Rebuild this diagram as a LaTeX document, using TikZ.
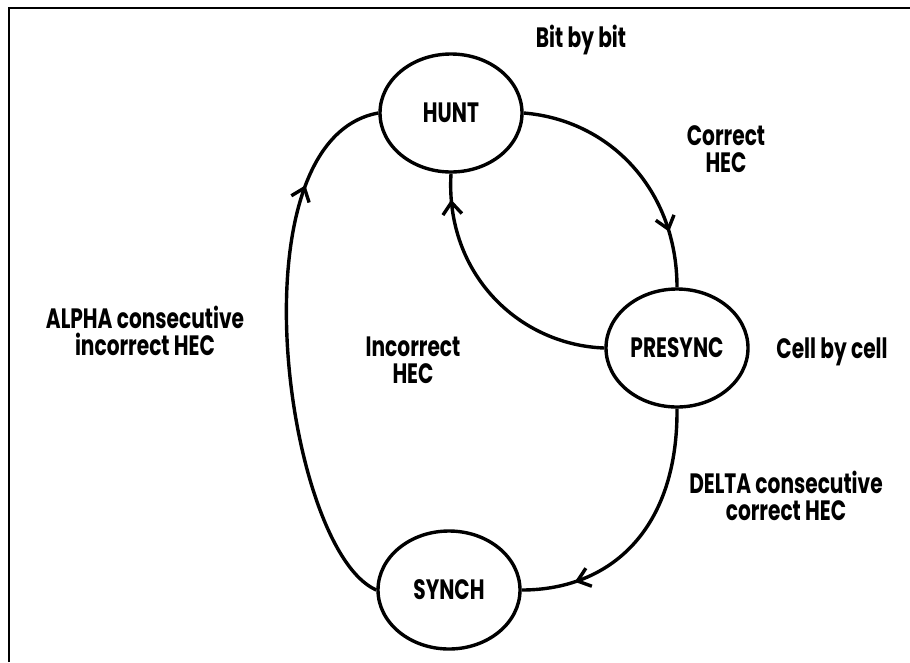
\documentclass[tikz,border=0pt]{standalone}
\usepackage{fontspec}
\newfontfamily\labelfont{Poppins}[FakeStretch=0.72]
\usetikzlibrary{shapes.geometric,arrows.meta,decorations.markings}
\begin{document}
\begin{tikzpicture}[x=1pt,y=-1pt,
  state/.style={ellipse,draw,line width=3.4pt,minimum width=142pt,minimum height=118pt,
    inner sep=0pt,font=\labelfont\bfseries\fontsize{28}{28}\selectfont},
  lbl/.style={align=center,inner sep=0pt,font=\labelfont\bfseries\fontsize{28}{27}\selectfont},
  trans/.style={line width=3.4pt,postaction={decorate},
    decoration={markings,mark=at position #1 with {\arrow{Straight Barb[length=12pt,width=19pt]}}}},
]
\useasboundingbox (0,0) rectangle (910,662);

% frame
\draw[line width=2.8pt] (9,662) -- (9,8) -- (910,8);

% states
\node[state] (hunt)    at (451,113) {HUNT};
\node[state] (presync) at (677,348) {PRESYNC};
\node[state] (synch)   at (449,590) {SYNCH};

% transitions
\draw[trans=0.78] (hunt.east) .. controls (610,120) and (677,190) .. (presync.north);
\draw[trans=0.9] (presync.west) .. controls (520,345) and (445,275) .. (hunt.south);
\draw[trans=0.8] (presync.south) .. controls (678,530) and (610,590) .. (synch.east);
\draw[trans=0.8] (synch.west) .. controls (285,550) and (230,140) .. (hunt.west);

% labels
\node[lbl] (bit)       at (581,40)  {Bit by bit};
\node[lbl] (correct)   at (726,149) {Correct\\HEC};
\node[lbl] (incorrect) at (413,360) {Incorrect\\HEC};
\node[lbl] (cell)      at (832,352) {Cell by cell};
\node[lbl] (alpha)     at (145,331) {ALPHA consecutive\\incorrect HEC};
\node[lbl] (delta)     at (786,496) {DELTA consecutive\\correct HEC};
\end{tikzpicture}
\end{document}
